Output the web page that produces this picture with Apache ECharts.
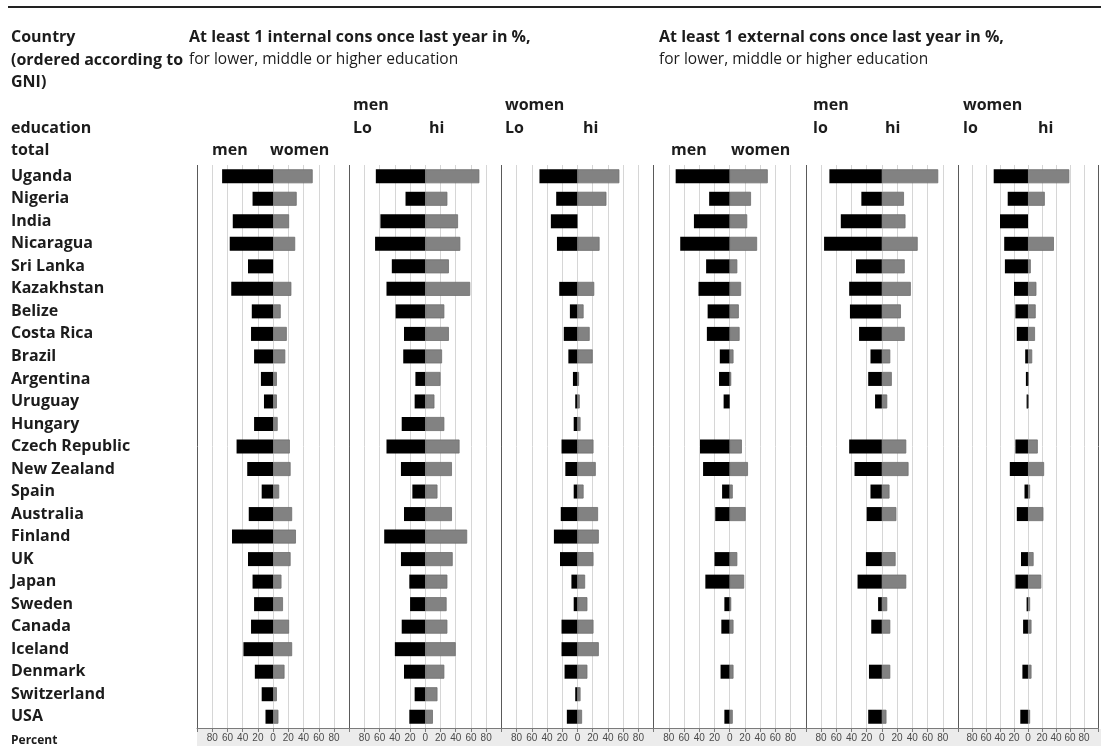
<!DOCTYPE html>
<html>
<head>
<meta charset="utf-8">
<script src="https://cdn.jsdelivr.net/npm/echarts@6/dist/echarts.min.js"></script>
<style>
  html, body { margin: 0; padding: 0; background: #fff; }
  #chart { width: 1101px; height: 751px; }
</style>
</head>
<body>
<div id="chart"></div>
<script>
// Countries, ordered according to GNI
const countries = ['Uganda', 'Nigeria', 'India', 'Nicaragua', 'Sri Lanka', 'Kazakhstan', 'Belize',
  'Costa Rica', 'Brazil', 'Argentina', 'Uruguay', 'Hungary', 'Czech Republic', 'New Zealand', 'Spain',
  'Australia', 'Finland', 'UK', 'Japan', 'Sweden', 'Canada', 'Iceland', 'Denmark', 'Switzerland', 'USA'];

// At least 1 internal consultation last year (%)
const intTotalMen   = [67, 27, 53, 57, 33, 55, 28, 29, 25, 16, 12, 25, 48, 34, 15, 32, 54, 33, 27, 25, 29, 39, 24, 15, 10];
const intTotalWomen = [52, 31, 21, 29, 0, 24, 10, 18, 16, 5, 5, 6, 22, 23, 8, 25, 30, 23, 11, 13, 21, 25, 15, 5, 7];
const intMenLo      = [65, 26, 59, 66, 44, 51, 39, 28, 29, 13, 14, 31, 51, 32, 17, 28, 54, 32, 21, 20, 31, 40, 28, 14, 21];
const intMenHi      = [71, 29, 43, 46, 31, 59, 25, 31, 22, 20, 12, 25, 45, 35, 16, 35, 55, 36, 29, 28, 29, 40, 25, 16, 10];
const intWomenLo    = [50, 28, 35, 27, 0, 24, 10, 18, 12, 6, 3, 5, 21, 16, 5, 22, 31, 23, 8, 5, 21, 21, 17, 3, 14];
const intWomenHi    = [55, 38, 0, 29, 0, 22, 8, 16, 20, 2, 3, 4, 21, 24, 8, 27, 28, 21, 10, 13, 21, 28, 13, 4, 6];

// At least 1 external consultation last year (%)
const extTotalMen   = [71, 27, 47, 65, 31, 41, 29, 30, 13, 14, 8, 0, 39, 35, 10, 19, 0, 20, 32, 7, 11, 0, 12, 0, 7];
const extTotalWomen = [50, 28, 23, 36, 10, 15, 12, 13, 5, 2, 0, 0, 16, 24, 4, 21, 0, 10, 19, 2, 5, 0, 5, 0, 4];
const extMenLo      = [69, 27, 54, 76, 34, 43, 42, 30, 15, 18, 9, 0, 43, 36, 15, 20, 0, 21, 32, 5, 14, 0, 17, 0, 18];
const extMenHi      = [74, 29, 31, 47, 30, 38, 25, 30, 11, 13, 7, 0, 32, 35, 10, 19, 0, 18, 32, 7, 11, 0, 11, 0, 6];
const extWomenLo    = [49, 29, 40, 34, 33, 20, 18, 16, 4, 3, 2, 0, 18, 26, 5, 16, 0, 10, 18, 2, 7, 0, 8, 0, 11];
const extWomenHi    = [59, 24, 0, 37, 4, 12, 11, 10, 6, 1, 1, 0, 14, 23, 3, 22, 0, 8, 19, 3, 5, 0, 5, 0, 3];

// Each panel: left bar (black) and right bar (grey)
const panels = [
  [intTotalMen, intTotalWomen],
  [intMenLo, intMenHi],
  [intWomenLo, intWomenHi],
  [extTotalMen, extTotalWomen],
  [extMenLo, extMenHi],
  [extWomenLo, extWomenHi]
];

const FONT = '"Open Sans", Lato, sans-serif';
const TEXT = '#1c1c1c';
const plotTop = 165, plotHeight = 563, panelLeft0 = 197, panelW = 152.2;

const grids = [], xAxes = [], yAxes = [], series = [];
const splitColors = ['#5a5a5a', '#d6d6d6', '#d6d6d6', '#d6d6d6', '#d6d6d6', '#d6d6d6',
  '#d6d6d6', '#d6d6d6', '#d6d6d6', '#d6d6d6', '#5a5a5a'];

// missing values (0) are left empty so no sliver is drawn
const leftVals = arr => arr.map(v => (v === 0 ? '-' : -v));
const rightVals = arr => arr.map(v => (v === 0 ? '-' : v));

panels.forEach((pair, i) => {
  grids.push({ left: panelLeft0 + i * panelW, top: plotTop, width: panelW, height: plotHeight, containLabel: false });
  xAxes.push({
    type: 'value', gridIndex: i, min: -100, max: 100, interval: 20,
    axisLine: { show: true, lineStyle: { color: '#7a7a7a', width: 1 } },
    axisTick: { show: true, length: 4, lineStyle: { color: '#7a7a7a' } },
    axisLabel: {
      color: '#4a4a4a', fontSize: 10, fontFamily: 'Liberation Sans, Arial, sans-serif', margin: 5,
      formatter: v => (Math.abs(v) === 100 ? '' : String(Math.abs(v)))
    },
    splitLine: { show: true, lineStyle: { color: splitColors, width: 1 } }
  });
  yAxes.push({
    type: 'category', gridIndex: i, data: countries, inverse: true,
    axisLine: { show: false }, axisTick: { show: false },
    axisLabel: i === 0 ? {
      show: true, align: 'left', margin: panelLeft0 - 11,
      fontFamily: FONT, fontWeight: 'bold', fontSize: 16, color: TEXT
    } : { show: false }
  });
  series.push({
    type: 'bar', xAxisIndex: i, yAxisIndex: i, stack: 'p' + i, barWidth: 14,
    data: leftVals(pair[0]), silent: true,
    itemStyle: { color: '#000' }
  });
  series.push({
    type: 'bar', xAxisIndex: i, yAxisIndex: i, stack: 'p' + i, barWidth: 14,
    data: rightVals(pair[1]), silent: true,
    itemStyle: { color: '#828282', borderColor: '#6e6e6e', borderWidth: 0.8 }
  });
});

function label(text, x, y, bold, size) {
  return {
    type: 'text', x: x, y: y, silent: true,
    style: {
      text: text, fill: TEXT, verticalAlign: 'middle', align: 'left',
      font: (bold ? 'bold ' : '') + (size || 16) + 'px ' + FONT
    }
  };
}

const graphics = [
  // top rule
  { type: 'line', shape: { x1: 8, y1: 7, x2: 1101, y2: 7 }, style: { stroke: '#222', lineWidth: 2 } },
  // band behind the percent scale
  { type: 'rect', shape: { x: 197, y: 729, width: 904, height: 17 }, style: { fill: '#ececec' }, z: -1 },
  label('Country', 11, 37, true),
  label('(ordered according to', 11, 60, true),
  label('GNI)', 11, 82, true),
  label('education', 11, 128, true),
  label('total', 11, 150, true),
  label('Percent', 11, 741, true, 12),
  label('At least 1 internal cons once last year in %,', 189, 37, true),
  label('for lower, middle or higher education', 189, 60, false, 15.5),
  label('At least 1 external cons once last year in %,', 659, 37, true),
  label('for lower, middle or higher education', 659, 60, false, 15.5),
  // panel headings
  label('men', 212, 150, true), label('women', 270, 150, true),
  label('men', 353, 105, true), label('Lo', 353, 128, true), label('hi', 429, 128, true),
  label('women', 505, 105, true), label('Lo', 505, 128, true), label('hi', 583, 128, true),
  label('men', 671, 150, true), label('women', 731, 150, true),
  label('men', 813, 105, true), label('lo', 813, 128, true), label('hi', 885, 128, true),
  label('women', 963, 105, true), label('lo', 963, 128, true), label('hi', 1038, 128, true)
];

const chart = echarts.init(document.getElementById('chart'), null, { renderer: 'canvas' });
chart.setOption({
  animation: false,
  backgroundColor: '#fff',
  grid: grids,
  xAxis: xAxes,
  yAxis: yAxes,
  series: series,
  graphic: graphics
});
</script>
</body>
</html>
